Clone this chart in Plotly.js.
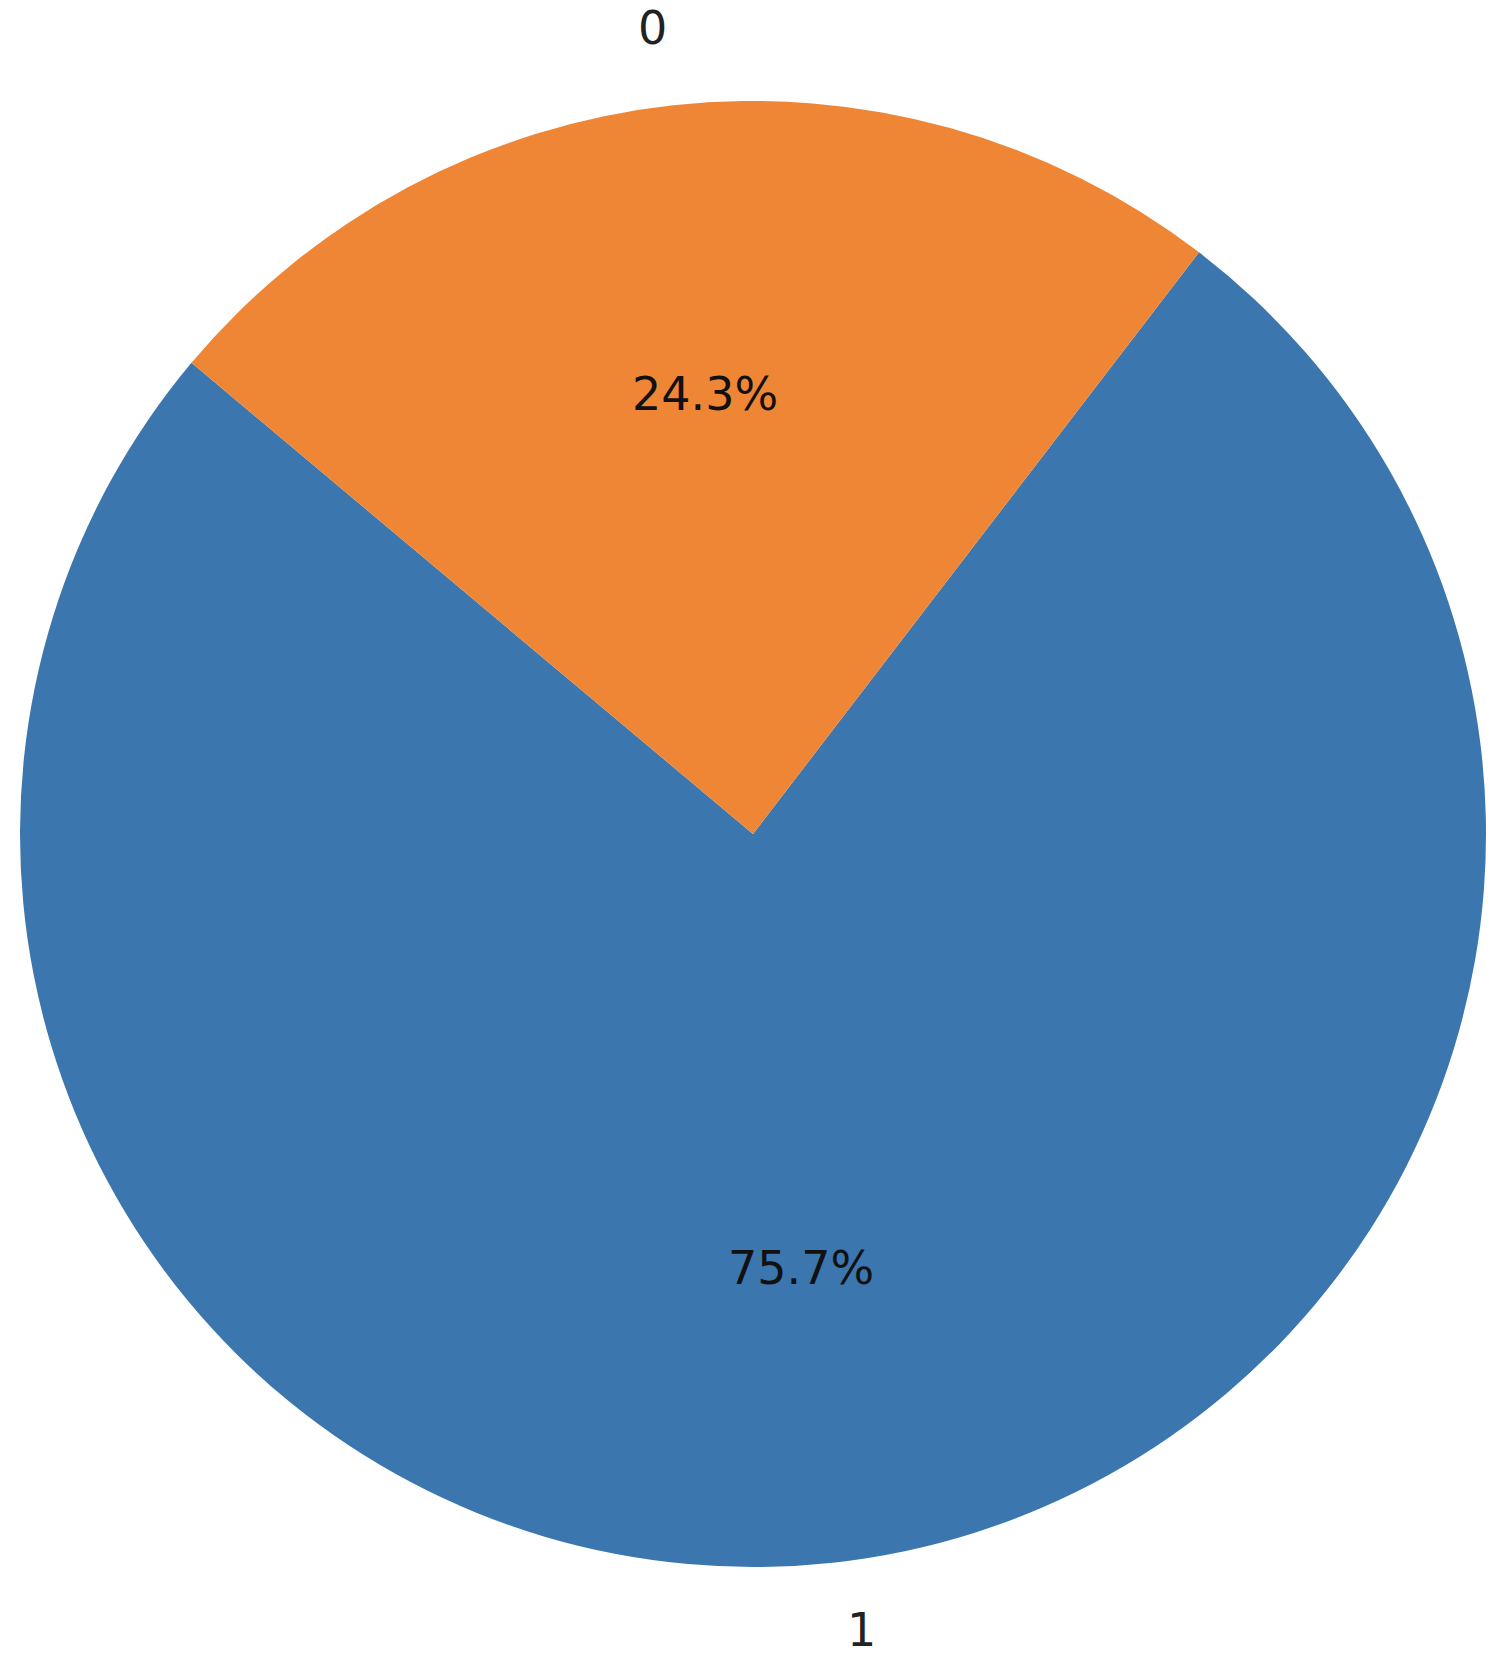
<!DOCTYPE html>
<html>
<head>
<meta charset="utf-8">
<script src="https://cdn.plot.ly/plotly-3.0.1.min.js"></script>
<style>html,body{margin:0;padding:0;background:#fff;}#chart{width:1505px;height:1672px;}</style>
</head>
<body>
<div id="chart"></div>
<script>
// Data
const labels = ['1', '0'];
const values = [75.7, 24.3];
const colors = ['#3B76AF', '#EF8636'];

// Layout geometry (pixels)
const W = 1505, H = 1672;
const cx = 753, cy = 834, R = 733;
const startAngle = 140; // degrees, counter-clockwise from 3 o'clock
const pctDist = 0.6, labelDist = 1.1;
const textShiftY = -3, labelShiftX = 4, labelShiftY = -5;
const fontFam = 'DejaVu Sans, sans-serif';
const fontSize = 46;

const total = values.reduce((a, b) => a + b, 0);
const annotations = [];
let cum = 0;
values.forEach((v, i) => {
  const mid = (startAngle + (cum + v / 2) / total * 360) * Math.PI / 180;
  cum += v;
  const pct = (v / total * 100).toFixed(1) + '%';
  const px = cx + pctDist * R * Math.cos(mid), py = cy - pctDist * R * Math.sin(mid) + textShiftY;
  annotations.push({text: pct, xref: 'paper', yref: 'paper', x: px / W, y: 1 - py / H,
    xanchor: 'center', yanchor: 'middle', showarrow: false,
    font: {family: fontFam, size: fontSize, color: '#111'}});
  const lx = cx + labelDist * R * Math.cos(mid) + labelShiftX;
  const ly = cy - labelDist * R * Math.sin(mid) + labelShiftY;
  annotations.push({text: labels[i], xref: 'paper', yref: 'paper', x: lx / W, y: 1 - ly / H,
    xanchor: Math.cos(mid) < 0 ? 'right' : 'left', yanchor: 'middle', showarrow: false,
    font: {family: fontFam, size: fontSize, color: '#222'}});
});

// Plotly (counterclockwise): first slice ends at `rotation` (clockwise from 12 o'clock)
let rot = (90 - startAngle) - 360 * values[0] / total;
rot = ((rot % 360) + 540) % 360 - 180;

const trace = {
  type: 'pie', labels: labels, values: values, sort: false,
  direction: 'counterclockwise', rotation: rot,
  marker: {colors: colors, line: {width: 0}},
  textinfo: 'none', hoverinfo: 'label+percent',
  domain: {x: [(cx - R) / W, (cx + R) / W], y: [(H - cy - R) / H, (H - cy + R) / H]}
};

const layout = {
  width: W, height: H, margin: {l: 0, r: 0, t: 0, b: 0},
  paper_bgcolor: '#fff', plot_bgcolor: '#fff', showlegend: false,
  font: {family: fontFam},
  annotations: annotations
};

Plotly.newPlot('chart', [trace], layout, {displayModeBar: false, staticPlot: true});
</script>
</body>
</html>
